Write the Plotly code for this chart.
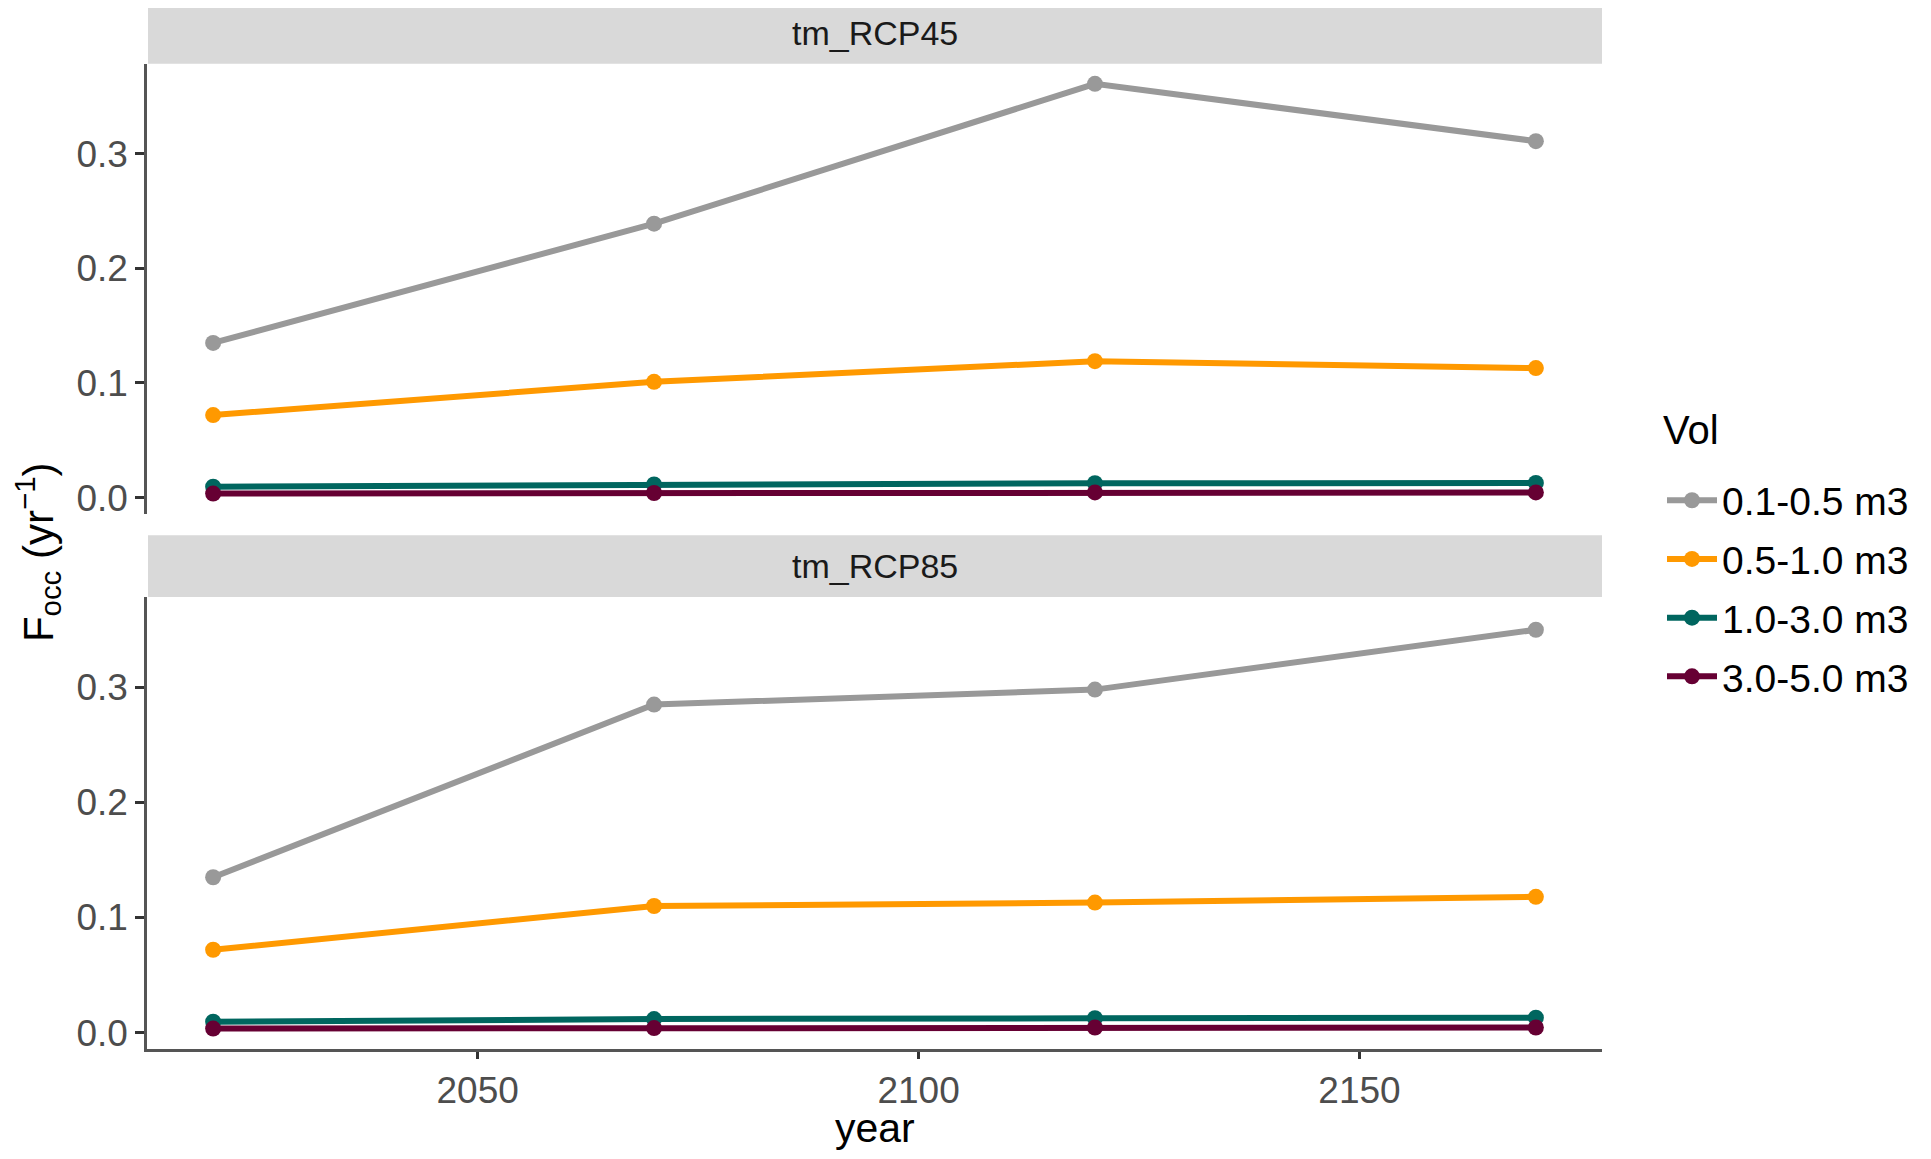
"""
Faceted line chart of occurrence frequency by volume class, RCP45 vs RCP85.
"""

import plotly.graph_objects as go

# data
years = [2020, 2070, 2120, 2170]
vol_classes = ['0.1-0.5 m3', '0.5-1.0 m3', '1.0-3.0 m3', '3.0-5.0 m3']
scenarios = ['tm_RCP45', 'tm_RCP85']

rcp45_01_05 = [0.135, 0.239, 0.361, 0.311]
rcp45_05_10 = [0.072, 0.101, 0.119, 0.113]
rcp45_10_30 = [0.0095, 0.0115, 0.0125, 0.0128]
rcp45_30_50 = [0.0035, 0.004, 0.0045, 0.0045]

rcp85_01_05 = [0.135, 0.285, 0.298, 0.350]
rcp85_05_10 = [0.072, 0.110, 0.113, 0.118]
rcp85_10_30 = [0.0095, 0.0118, 0.0125, 0.013]
rcp85_30_50 = [0.0035, 0.004, 0.0045, 0.0045]

y_ticks = [0.0, 0.1, 0.2, 0.3]
x_ticks = [2050, 2100, 2150]

colors = ['#999999', '#FF9900', '#00665F', '#660033']
FONT = 'Liberation Sans, Arial, sans-serif'

# the page body has an 8px margin, so the figure is a bit smaller than the window
OFF = 8
W, H = 1931 - 2 * OFF, 1159 - 2 * OFF


def px_x(p):
    return (p - OFF) / W


def px_y(p):
    # window pixel from top -> paper fraction from bottom
    return 1 - (p - OFF) / H


panel_left, panel_right = 147, 1602
top_panel = (64, 516)
bot_panel = (599, 1053)
top_strip = (3, 64)
bot_strip = (537, 599)

series = {
    'tm_RCP45': [rcp45_01_05, rcp45_05_10, rcp45_10_30, rcp45_30_50],
    'tm_RCP85': [rcp85_01_05, rcp85_05_10, rcp85_10_30, rcp85_30_50],
}

fig = go.Figure()

for s_idx, scen in enumerate(scenarios):
    xa = 'x' if s_idx == 0 else 'x2'
    ya = 'y' if s_idx == 0 else 'y2'
    for vol, vals, color in zip(vol_classes, series[scen], colors):
        fig.add_trace(go.Scatter(
            x=years, y=vals,
            mode='lines+markers',
            name=vol,
            legendgroup=vol,
            showlegend=(s_idx == 0),
            line=dict(color=color, width=6),
            marker=dict(color=color, size=16),
            xaxis=xa, yaxis=ya,
        ))

x_range = [2012.5, 2177.5]
y_range = [-0.0145, 0.3785]
axis_common = dict(
    showgrid=False, zeroline=False,
    tickfont=dict(family=FONT, size=37, color='#4D4D4D'),
    ticks='outside', tickwidth=2.5, tickcolor='#333333',
    linecolor='#555555', linewidth=2.5,
)

fig.update_layout(
    xaxis=dict(domain=[px_x(panel_left), px_x(panel_right)], range=x_range,
               anchor='y', showticklabels=False, showline=False, ticks='',
               showgrid=False, zeroline=False),
    xaxis2=dict(domain=[px_x(panel_left), px_x(panel_right)], range=x_range,
                anchor='y2', tickvals=x_ticks, showline=True, ticklen=7,
                **axis_common),
    yaxis=dict(domain=[px_y(top_panel[1]), px_y(top_panel[0])], range=y_range,
               anchor='x', tickvals=y_ticks, tickformat='.1f', showline=True,
               ticklen=9, **axis_common),
    yaxis2=dict(domain=[px_y(bot_panel[1]), px_y(bot_panel[0])], range=y_range,
                anchor='x2', tickvals=y_ticks, tickformat='.1f', showline=True,
                ticklen=9, **axis_common),
)

# facet strips
for scen, (s_top, s_bot) in zip(scenarios, [top_strip, bot_strip]):
    fig.add_shape(type='rect', xref='paper', yref='paper',
                  x0=px_x(panel_left + 1), x1=px_x(panel_right),
                  y0=px_y(s_bot), y1=px_y(s_top),
                  fillcolor='#D9D9D9', line=dict(width=0), layer='below')
    fig.add_annotation(text=scen, xref='paper', yref='paper',
                       x=px_x((panel_left + panel_right) / 2),
                       y=px_y((s_top + s_bot) / 2),
                       xanchor='center', yanchor='middle', showarrow=False,
                       font=dict(family=FONT, size=34, color='#1A1A1A'))

# axis titles
fig.add_annotation(text='year', xref='paper', yref='paper',
                   x=px_x((panel_left + panel_right) / 2), y=px_y(1132),
                   xanchor='center', yanchor='middle', showarrow=False,
                   font=dict(family=FONT, size=41, color='black'))
fig.add_annotation(text='F<sub>occ</sub> (yr<sup>\u22121</sup>)',
                   xref='paper', yref='paper', x=px_x(37), y=px_y(554),
                   xanchor='center', yanchor='middle',
                   textangle=-90, showarrow=False,
                   font=dict(family=FONT, size=42, color='black'))

# legend title drawn separately so the gap below it matches
fig.add_annotation(text='Vol', xref='paper', yref='paper',
                   x=px_x(1661), y=px_y(431), xanchor='left', yanchor='middle',
                   showarrow=False,
                   font=dict(family=FONT, size=40, color='black'))

fig.update_layout(
    width=W, height=H,
    margin=dict(l=0, r=0, t=0, b=0),
    paper_bgcolor='white', plot_bgcolor='white',
    legend=dict(
        font=dict(family=FONT, size=39, color='black'),
        x=px_x(1662), y=px_y(470), xanchor='left', yanchor='top',
        itemwidth=50, tracegroupgap=5, bgcolor='rgba(0,0,0,0)',
    ),
)

fig.write_html('out.html')
